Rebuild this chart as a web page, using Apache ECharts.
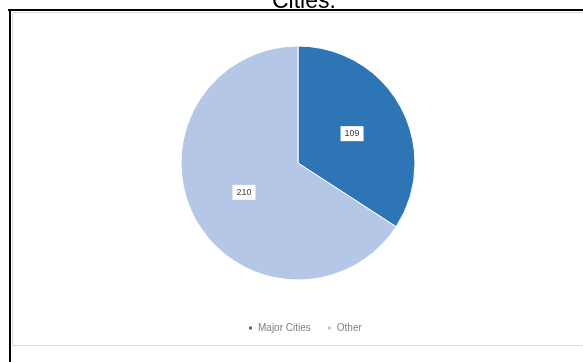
<!DOCTYPE html>
<html>
<head>
<meta charset="utf-8">
<script src="https://cdn.jsdelivr.net/npm/echarts@6/dist/echarts.min.js"></script>
<style>html,body{margin:0;padding:0;background:#fff;}#c{width:583px;height:362px;}</style>
</head>
<body>
<div id="c"></div>
<script>
const titleText = 'Cities.';
const categories = ['Major Cities', 'Other'];
const values = [109, 210];
const colors = ['#2E75B6', '#B4C7E7'];

const chart = echarts.init(document.getElementById('c'), null, {renderer: 'canvas'});
chart.setOption({
  backgroundColor: '#ffffff',
  animation: false,
  title: {
    text: titleText,
    left: 267,
    top: -15,
    textStyle: {fontFamily: 'Liberation Sans, Arial', fontSize: 23, fontWeight: 'normal', color: '#000'}
  },
  graphic: [
    {type: 'rect', shape: {x: 12.5, y: 12.5, width: 575, height: 333}, style: {fill: 'none', stroke: '#d9d9d9', lineWidth: 1}, z: 0},
    {type: 'line', shape: {x1: 8, y1: 10, x2: 583, y2: 10}, style: {stroke: '#000', lineWidth: 2}},
    {type: 'line', shape: {x1: 10, y1: 9, x2: 10, y2: 362}, style: {stroke: '#000', lineWidth: 2}}
  ],
  legend: {
    data: categories,
    top: 318,
    left: 242,
    icon: 'rect',
    itemWidth: 5,
    itemHeight: 5,
    itemGap: 15,
    textStyle: {fontSize: 10, color: '#7f7f7f', fontFamily: 'Liberation Sans, Arial'}
  },
  series: [{
    type: 'pie',
    center: [298, 163],
    radius: 117,
    startAngle: 90,
    clockwise: true,
    data: categories.map((c, i) => ({name: c, value: values[i], itemStyle: {color: colors[i]}})),
    itemStyle: {borderColor: '#ffffff', borderWidth: 1},
    label: {
      position: 'inside',
      formatter: '{c}',
      backgroundColor: '#ffffff',
      padding: [3, 4],
      fontSize: 9,
      color: '#404040',
      fontFamily: 'Liberation Sans, Arial'
    },
    labelLine: {show: false},
    emphasis: {disabled: true}
  }]
});
</script>
</body>
</html>
